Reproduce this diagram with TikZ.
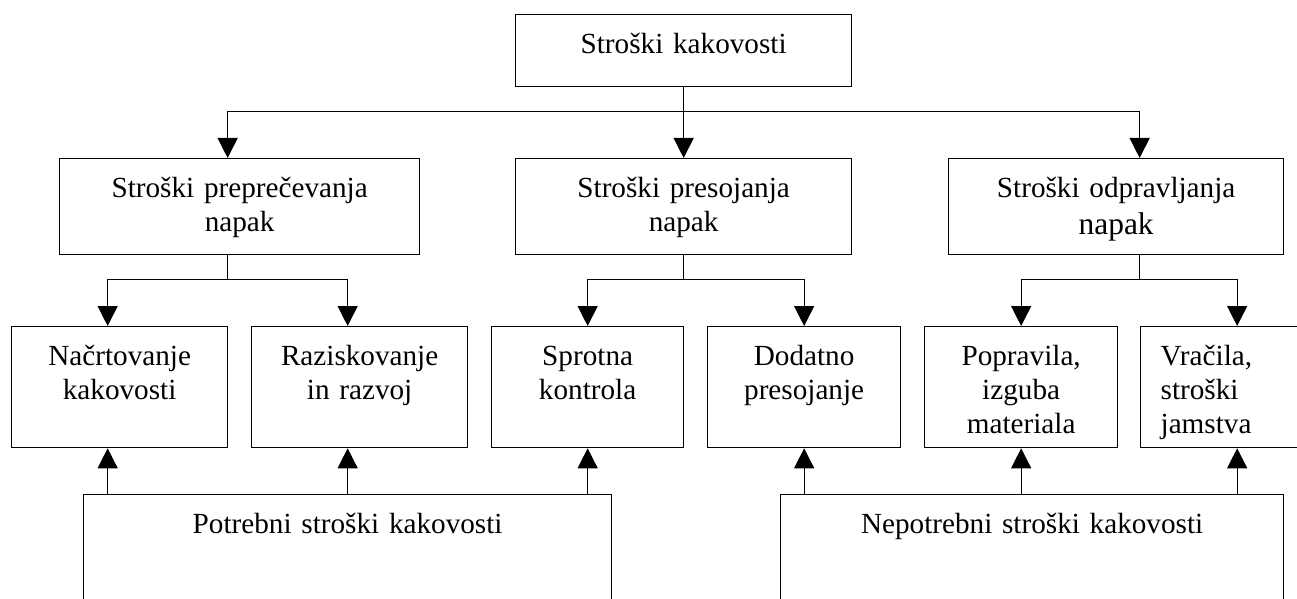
\documentclass[tikz,border=0pt]{standalone}
\usepackage{fontspec}
\setmainfont{Liberation Serif}
\usetikzlibrary{arrows.meta}

\tikzset{
  box/.style={draw, line width=0.65pt, anchor=north west, inner sep=0pt, align=center,
    text height=19.5pt, font=\fontsize{14.6}{17}\selectfont},
  conn/.style={line width=0.65pt},
  arr/.style={conn, -{Triangle[length=10pt,width=10pt]}}
}

\begin{document}
\begin{tikzpicture}[x=0.5pt,y=-0.5pt]
        \useasboundingbox (0,0) rectangle (1297,599);

        \node[box, text width=168pt, text depth=16.5pt] (SK) at (515,14) {Stroški kakovosti};

        \node[box, text width=180pt, text depth=28.5pt] (SP) at (59,158) {Stroški preprečevanja\\napak};
        \node[box, text width=168pt, text depth=28.5pt] (SPr) at (515,158) {Stroški presojanja\\napak};
        \node[box, text width=167.5pt, text depth=28.5pt] (SO) at (948,158) {Stroški odpravljanja\\[1.5pt]{\fontsize{15.7}{18.5}\selectfont napak}};

        \node[box, text width=108pt, text depth=41pt] (NK) at (11,326) {Načrtovanje\\kakovosti};
        \node[box, text width=108pt, text depth=41pt] (RR) at (251,326) {Raziskovanje\\in razvoj};
        \node[box, text width=96pt, text depth=41pt] (SpK) at (491,326) {Sprotna\\kontrola};
        \node[box, text width=96.5pt, text depth=41pt] (DP) at (707,326) {Dodatno\\presojanje};
        \node[box, text width=96.5pt, text depth=41pt] (PI) at (924,326) {Popravila,\\izguba\\materiala};
        \node[box, text width=76.5pt, inner xsep=10pt, align=left, text depth=41pt] (VS) at (1140,326) {Vračila,\\stroški\\jamstva};

        \node[box, text width=264pt, text depth=60.5pt] (PS) at (83,494) {Potrebni stroški kakovosti};
        \node[box, text width=251.5pt, text depth=60.5pt] (NS) at (780,494) {Nepotrebni stroški kakovosti};

        % Stroški kakovosti -> tri skupine
        \draw[arr] (SK.south) -- (SPr.north);
        \draw[arr] (SK.south) ++(0,24) -| ([xshift=-6pt]SP.north);
        \draw[arr] (SK.south) ++(0,24) -| ([xshift=11.75pt]SO.north);

        % skupine -> podskupine
        \draw[arr] ([xshift=-6pt]SP.south) -- ++(0,24) -| ([xshift=-6pt]NK.north);
        \draw[arr] ([xshift=-6pt]SP.south) ++(0,24) -| ([xshift=-6pt]RR.north);
        \draw[arr] (SPr.south) -- ++(0,24) -| (SpK.north);
        \draw[arr] (SPr.south) ++(0,24) -| (DP.north);
        \draw[arr] ([xshift=11.75pt]SO.south) -- ++(0,24) -| (PI.north);
        \draw[arr] ([xshift=11.75pt]SO.south) ++(0,24) -| (VS.north);

        % potrebni / nepotrebni
        \draw[arr] ([xshift=-6pt]PS.north -| NK.south) -- ([xshift=-6pt]NK.south);
        \draw[arr] ([xshift=-6pt]PS.north -| RR.south) -- ([xshift=-6pt]RR.south);
        \draw[arr] (PS.north -| SpK.south) -- (SpK.south);
        \draw[arr] (NS.north -| DP.south) -- (DP.south);
        \draw[arr] (NS.north -| PI.south) -- (PI.south);
        \draw[arr] (NS.north -| VS.south) -- (VS.south);
    \end{tikzpicture}
\end{document}
